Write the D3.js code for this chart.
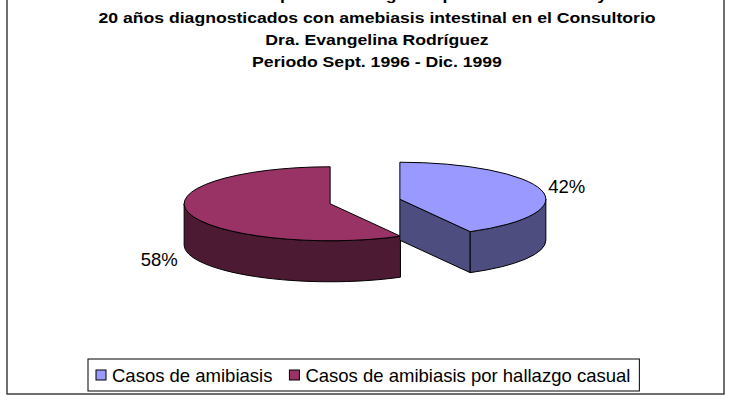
<!DOCTYPE html>
<html>
<head>
<meta charset="utf-8">
<script src="https://cdn.jsdelivr.net/npm/d3@7"></script>
<style>
  html, body { margin: 0; padding: 0; background: #fff; }
  svg { display: block; font-family: "Liberation Sans", Arial, sans-serif; }
</style>
</head>
<body>
<div id="chart"></div>
<script>
// chart data
const titleLines = [
    "Distribución de pacientes según la presentación de 1 y",
    "20 años diagnosticados con amebiasis intestinal en el Consultorio",
    "Dra. Evangelina Rodríguez",
    "Periodo Sept. 1996 - Dic. 1999"
];
const categories = ["Casos de amibiasis", "Casos de amibiasis por hallazgo casual"];
const values = [42, 58];
const sliceColors = ["#9999FF", "#993366"];

const width = 730, height = 400;

const svg = d3.select("#chart")
    .append("svg")
    .attr("width", width)
    .attr("height", height);

// outer chart frame (top edge is cropped off in the original)
svg.append("rect")
    .attr("x", 7).attr("y", -20)
    .attr("width", 717).attr("height", 414)
    .attr("fill", "#fff")
    .attr("stroke", "#404040")
    .attr("stroke-width", 1.5);

// title, first line sits above the cropped top edge like in the original
const titleG = svg.append("g")
    .attr("transform", "translate(377,0) scale(1.16,1)");
const titleBaselines = [-0.5, 23.5, 45.5, 67];
titleG.selectAll("text")
    .data(titleLines)
    .join("text")
    .attr("x", 0)
    .attr("y", (d, i) => titleBaselines[i])
    .attr("text-anchor", "middle")
    .attr("font-size", 15.2)
    .attr("font-weight", "bold")
    .attr("fill", "#000")
    .text(d => d);

// 3d pie geometry
const pie = { cx: 365, cy: 201.5, rx: 146, ry: 37, depth: 41, explode: 36 };
const tilt = pie.ry / pie.rx;

const arcs = d3.pie().sort(null).value(d => d)(values);

// angle measured clockwise from 12 o'clock
function pt(c, a, dy) {
    return [c[0] + pie.rx * Math.sin(a), c[1] - pie.ry * Math.cos(a) + (dy || 0)];
}

function sliceCenter(d) {
    const m = (d.startAngle + d.endAngle) / 2;
    return [pie.cx + pie.explode * Math.sin(m), pie.cy - pie.explode * Math.cos(m) * tilt];
}

function topPath(d) {
    const c = sliceCenter(d);
    const p0 = pt(c, d.startAngle), p1 = pt(c, d.endAngle);
    const large = d.endAngle - d.startAngle > Math.PI ? 1 : 0;
    return "M" + c + "L" + p0 + "A" + pie.rx + "," + pie.ry + " 0 " + large + " 1 " + p1 + "Z";
}

function rimPath(d) {
    // only the front half of the rim (3 o'clock to 9 o'clock) can be seen
    const a0 = Math.max(d.startAngle, Math.PI / 2);
    const a1 = Math.min(d.endAngle, 3 * Math.PI / 2);
    if (a1 <= a0) return null;
    const c = sliceCenter(d);
    const t0 = pt(c, a0), t1 = pt(c, a1);
    const b0 = pt(c, a0, pie.depth), b1 = pt(c, a1, pie.depth);
    return "M" + t0 + "A" + pie.rx + "," + pie.ry + " 0 0 1 " + t1 +
        "L" + b1 + "A" + pie.rx + "," + pie.ry + " 0 0 0 " + b0 + "Z";
}

function wallPaths(d) {
    const c = sliceCenter(d);
    const cb = [c[0], c[1] + pie.depth];
    const out = [];
    // end edge wall faces toward angle + 90deg, start edge wall toward angle - 90deg
    [[d.startAngle, -1], [d.endAngle, 1]].forEach(([a, s]) => {
        const n = a + s * Math.PI / 2;
        if (-Math.cos(n) > 0.01) {
            const p = pt(c, a), pb = pt(c, a, pie.depth);
            out.push("M" + c + "L" + p + "L" + pb + "L" + cb + "Z");
        }
    });
    return out;
}

const pieG = svg.append("g");
const sideColor = c => d3.interpolateRgb(c, "#000")(0.5);

// draw slices from left to right
const order = arcs.slice().sort((a, b) => sliceCenter(a)[0] - sliceCenter(b)[0]);
order.forEach(d => {
    const g = pieG.append("g");
    const side = sideColor(sliceColors[d.index]);
    wallPaths(d).forEach(p => {
        g.append("path").attr("d", p).attr("fill", side)
            .attr("stroke", "#000").attr("stroke-width", 1).attr("stroke-linejoin", "round");
    });
    const rim = rimPath(d);
    if (rim) g.append("path").attr("d", rim).attr("fill", side)
        .attr("stroke", "#000").attr("stroke-width", 1).attr("stroke-linejoin", "round");
    g.append("path").attr("d", topPath(d)).attr("fill", sliceColors[d.index])
        .attr("stroke", "#000").attr("stroke-width", 1).attr("stroke-linejoin", "round");
});

// data labels
pieG.selectAll("text.lbl")
    .data(arcs)
    .join("text")
    .attr("class", "lbl")
    .attr("font-size", 18.5)
    .attr("fill", "#000")
    .each(function (d) {
        const m = (d.startAngle + d.endAngle) / 2;
        const p = pt(sliceCenter(d), m);
        const right = Math.sin(m) > 0;
        d3.select(this)
            .attr("x", right ? p[0] + 7 : p[0] - 11)
            .attr("y", right ? p[1] + 3 : p[1] + pie.depth + 12)
            .attr("text-anchor", right ? "start" : "end");
    })
    .text(d => d.data + "%");

// legend
const legendG = svg.append("g");
const legendBox = legendG.append("rect")
    .attr("fill", "#fff").attr("stroke", "#000").attr("stroke-width", 1);
let lx = 96;
categories.forEach((name, i) => {
    legendG.append("rect")
        .attr("x", lx).attr("y", 370)
        .attr("width", 10).attr("height", 10)
        .attr("fill", sliceColors[i])
        .attr("stroke", "#000").attr("stroke-width", 1);
    const t = legendG.append("text")
        .attr("x", lx + 16).attr("y", 382)
        .attr("font-size", 18.5)
        .attr("fill", "#000")
        .text(name);
    lx = lx + 16 + t.node().getComputedTextLength() + 17;
});
legendBox.attr("x", 88).attr("y", 359)
    .attr("width", lx - 17 + 9 - 88).attr("height", 32);
</script>
</body>
</html>
